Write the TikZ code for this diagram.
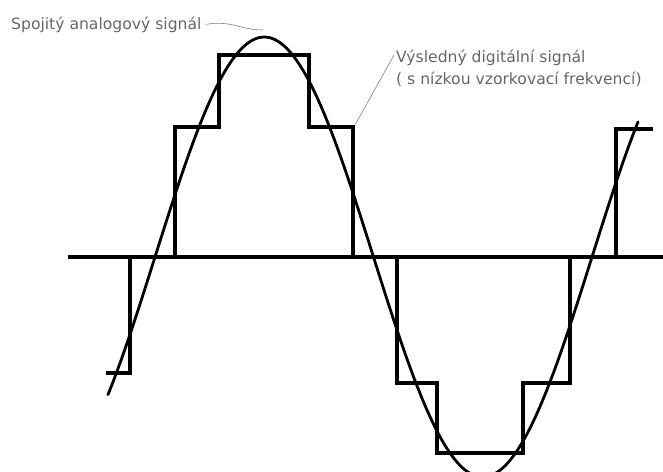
\documentclass[tikz,border=0pt]{standalone}
\usepackage{fontspec}
\setmainfont{DejaVu Sans}
\usetikzlibrary{positioning}

\tikzset{
    signal/.style={line width=2.8pt, line cap=round},
    stairs/.style={line width=3.1pt, line join=miter},
    leader/.style={gray, line width=0.6pt},
    caption/.style={font=\fontsize{15.6}{22}\selectfont, text=black!60, inner sep=0pt}
}

\begin{document}
\begin{tikzpicture}[x=1pt, y=-1pt]
    \useasboundingbox (0,0) rectangle (663,471);
    % time axis
    \draw[line width=3.8pt] (68,257) -- (663,257);
    % sampled (digital) signal
    \draw[stairs] (106,373) \foreach \x/\y in {130/373, 130/257, 175/257, 175/127, 219/127, 219/55,
        309/55, 309/127, 353/127, 353/257, 397/257, 397/383, 437/383, 437/453,
        523/453, 523/383, 570/383, 570/257, 616/257, 616/129, 653/129} { -- (\x,\y) };
    % continuous (analog) signal, period 437
    \draw[signal, domain=108:638, samples=160, smooth]
        plot (\x, {257 - 220*sin(0.8238*(\x-155))});
    % labels
    \node[caption, anchor=base west] (analoglbl) at (11,29) {Spojitý analogový signál};
    \node[caption, anchor=north west, align=left] (digitallbl) at (396,50)
        {Výsledný digitální signál\\( s nízkou vzorkovací frekvencí)};
    \coordinate (peaktip) at (263,30);
    \coordinate (stepcorner) at (355,125);
    \draw[leader] ([xshift=4pt]analoglbl.east) .. controls (232,20) and (240,30) .. (peaktip);
    \draw[leader] (stepcorner) -- ([xshift=-2pt, yshift=-5pt]digitallbl.north west);
\end{tikzpicture}
\end{document}
